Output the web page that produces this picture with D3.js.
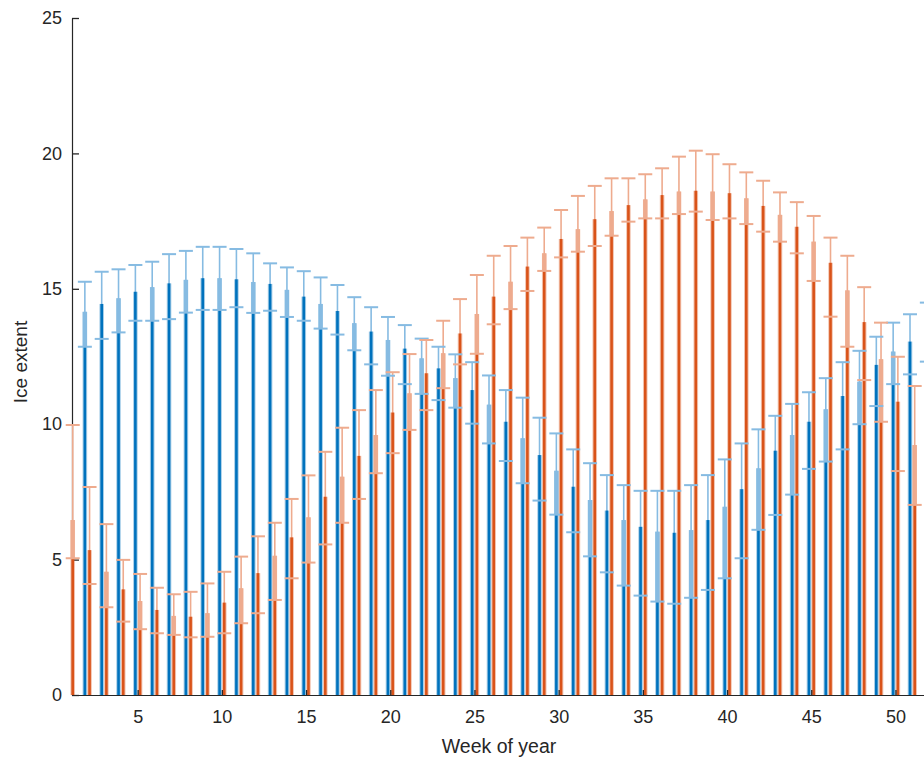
<!DOCTYPE html>
<html>
<head>
<meta charset="utf-8">
<script src="https://cdn.jsdelivr.net/npm/d3@7/dist/d3.min.js"></script>
<style>
  body { margin: 0; background: #fff; }
  text { font-family: "Liberation Sans", Arial, Helvetica, sans-serif; }
</style>
</head>
<body>
<svg id="chart" width="924" height="760"></svg>
<script>
// Weekly ice extent, two series with bars and (asymmetric) error bars.
// Values.

var weeks = d3.range(1, 53)

var blueMean = [13.9, 14.15, 14.44, 14.65, 14.89, 15.06, 15.2, 15.33, 15.39, 15.39,
  15.35, 15.25, 15.18, 14.96, 14.71, 14.44, 14.18, 13.73, 13.42, 13.11,
  12.79, 12.43, 12.06, 11.7, 11.26, 10.72, 10.09, 9.48, 8.86, 8.28,
  7.69, 7.2, 6.81, 6.46, 6.21, 6.03, 5.99, 6.09, 6.46, 6.95,
  7.6, 8.37, 9.02, 9.6, 10.09, 10.55, 11.04, 11.57, 12.19, 12.68,
  13.05, 13.45]
var blueLow = [12.6, 12.86, 13.15, 13.39, 13.82, 13.82, 13.88, 14.12, 14.22, 14.22,
  14.32, 14.11, 14.19, 13.96, 13.82, 13.53, 13.31, 12.73, 12.21, 11.79,
  11.48, 11.12, 10.89, 10.61, 10.02, 9.29, 8.64, 7.82, 7.18, 6.66,
  6.01, 5.12, 4.53, 4.04, 3.67, 3.45, 3.37, 3.59, 3.88, 4.31,
  5.05, 6.1, 6.65, 7.4, 8.35, 8.62, 9.07, 10.0, 10.67, 11.48,
  11.84, 12.31]
var blueHigh = [15.0, 15.26, 15.63, 15.72, 15.88, 16.0, 16.28, 16.4, 16.55, 16.55,
  16.47, 16.31, 15.94, 15.79, 15.65, 15.42, 15.14, 14.69, 14.32, 13.96,
  13.66, 13.16, 12.86, 12.58, 12.29, 11.8, 11.26, 10.98, 10.24, 9.66,
  9.07, 8.56, 8.12, 7.75, 7.54, 7.54, 7.54, 7.75, 8.12, 8.7,
  9.29, 9.81, 10.31, 10.75, 11.18, 11.7, 12.29, 12.71, 13.23, 13.75,
  14.06, 14.49]

var orangeMean = [6.46, 5.35, 4.55, 3.9, 3.47, 3.14, 2.92, 2.89, 3.02, 3.41,
  3.94, 4.5, 5.14, 5.82, 6.56, 7.32, 8.06, 8.83, 9.6, 10.43,
  11.14, 11.88, 12.62, 13.35, 14.07, 14.71, 15.26, 15.82, 16.31, 16.84,
  17.2, 17.57, 17.87, 18.09, 18.3, 18.46, 18.59, 18.62, 18.59, 18.53,
  18.34, 18.06, 17.73, 17.29, 16.74, 15.96, 14.94, 13.77, 12.4, 10.83,
  9.23, 7.6]
var orangeLow = [5.05, 4.1, 3.24, 2.71, 2.43, 2.28, 2.22, 2.13, 2.15, 2.28,
  2.65, 3.02, 3.51, 4.31, 4.89, 5.56, 6.36, 7.24, 8.19, 8.93,
  9.79, 10.52, 11.33, 12.21, 12.6, 13.69, 14.25, 14.92, 15.66, 16.16,
  16.37, 16.58, 16.96, 17.48, 17.6, 17.6, 17.76, 17.85, 17.54, 17.6,
  17.39, 17.11, 16.74, 16.31, 15.29, 13.97, 12.86, 11.63, 10.09, 8.27,
  7.02, 5.6]
var orangeHigh = [9.97, 7.68, 6.31, 4.99, 4.47, 3.96, 3.72, 3.81, 4.12, 4.55,
  5.11, 5.86, 6.36, 7.24, 8.11, 8.98, 9.87, 10.52, 11.26, 11.92,
  12.59, 13.11, 13.82, 14.62, 15.51, 16.22, 16.58, 16.89, 17.26, 17.91,
  18.43, 18.8, 19.08, 19.08, 19.23, 19.45, 19.88, 20.1, 19.97, 19.6,
  19.3, 18.99, 18.56, 18.2, 17.69, 16.89, 16.22, 15.06, 13.75, 12.49,
  11.41, 9.6]

var yTicks = [0, 5, 10, 15, 20, 25]
var xTicks = [5, 10, 15, 20, 25, 30, 35, 40, 45, 50]

var svg = d3.select('#chart')
  , x = d3.scaleLinear().domain([1.1, 52.9]).range([72, 944.3])
  , y = d3.scaleLinear().domain([0, 25]).range([695, 18])
  , axisColor = '#262626'

// offset (px) of each series inside its week group, and which weeks
// show the pale segment between the lower cap and the bar top
var series = [
  { mean: blueMean, low: blueLow, high: blueHigh, color: '#0072BD', light: '#86bbe2', offset: -2.3, paleParity: 0 },
  { mean: orangeMean, low: orangeLow, high: orangeHigh, color: '#D95319', light: '#eeab8e', offset: 2.4, paleParity: 1 }
]

var rows = function(s) {
  return weeks.map(function(w, i) {
    return { week: w, cx: x(w) + s.offset, mean: s.mean[i], low: s.low[i], high: s.high[i] }
  }).filter(function(d) { return d.cx >= x.range()[0] })
}

// y axis goes under the bars (the first orange bar sits on it),
// x axis goes over them
var yAxis = svg.append('g')
  .attr('transform', 'translate(' + x.range()[0] + ',0)')
  .call(d3.axisLeft(y).tickValues(yTicks).tickSize(-7).tickSizeOuter(0).tickPadding(10))

var barGroup = svg.append('g')
  , capGroup = svg.append('g')

series.forEach(function(s) {
  var data = rows(s)
    , g = barGroup.append('g')

  // soft edge of the bar
  g.selectAll('rect.edge').data(data).enter().append('rect')
    .attr('class', 'edge')
    .attr('x', function(d) { return d.cx - 2.3 })
    .attr('width', 4.6)
    .attr('y', function(d) { return y(d.mean) })
    .attr('height', function(d) { return y(0) - y(d.mean) })
    .attr('fill', s.color)
    .attr('fill-opacity', 0.35)

  // whisker
  g.selectAll('line.whisker').data(data).enter().append('line')
    .attr('class', 'whisker')
    .attr('x1', function(d) { return d.cx }).attr('x2', function(d) { return d.cx })
    .attr('y1', function(d) { return y(d.low) }).attr('y2', function(d) { return y(d.high) })
    .attr('stroke', s.light)
    .attr('stroke-width', 1.6)

  // solid core
  g.selectAll('rect.core').data(data).enter().append('rect')
    .attr('class', 'core')
    .attr('x', function(d) { return d.cx - 1.3 })
    .attr('width', 2.6)
    .attr('y', function(d) { return y(d.week % 2 === s.paleParity ? Math.min(d.low, d.mean) : d.mean) })
    .attr('height', function(d) {
      var top = d.week % 2 === s.paleParity ? Math.min(d.low, d.mean) : d.mean
      return y(0) - y(top)
    })
    .attr('fill', s.color)

  // pale part between lower cap and bar top
  g.selectAll('rect.pale').data(data.filter(function(d) { return d.week % 2 === s.paleParity && d.mean > d.low }))
    .enter().append('rect')
    .attr('class', 'pale')
    .attr('x', function(d) { return d.cx - 2.1 })
    .attr('width', 4.2)
    .attr('y', function(d) { return y(d.mean) })
    .attr('height', function(d) { return y(d.low) - y(d.mean) })
    .attr('fill', s.light)

  // caps
  var c = capGroup.append('g')
  ;['low', 'high'].forEach(function(k) {
    c.selectAll('line.cap-' + k).data(data).enter().append('line')
      .attr('class', 'cap-' + k)
      .attr('x1', function(d) { return d.cx - 7 }).attr('x2', function(d) { return d.cx + 7 })
      .attr('y1', function(d) { return y(d[k]) }).attr('y2', function(d) { return y(d[k]) })
      .attr('stroke', s.light)
      .attr('stroke-width', 2)
  })
})

var xAxis = svg.append('g')
  .attr('transform', 'translate(0,' + y(0) + ')')
  .call(d3.axisBottom(x).tickValues(xTicks).tickSize(-5).tickSizeOuter(0).tickPadding(15))

;[xAxis, yAxis].forEach(function(a) {
  a.attr('font-family', null).attr('font-size', 18)
  a.select('.domain').attr('stroke', axisColor).attr('stroke-width', 1.2)
  a.selectAll('.tick line').attr('stroke', axisColor).attr('stroke-width', 1.3)
  a.selectAll('.tick text').attr('fill', axisColor)
})

svg.append('text')
  .attr('x', 499).attr('y', 753)
  .attr('text-anchor', 'middle')
  .attr('font-size', 19.5)
  .attr('fill', axisColor)
  .text('Week of year')

svg.append('text')
  .attr('transform', 'translate(27,362) rotate(-90)')
  .attr('text-anchor', 'middle')
  .attr('font-size', 19)
  .attr('fill', axisColor)
  .text('Ice extent')
</script>
</body>
</html>
